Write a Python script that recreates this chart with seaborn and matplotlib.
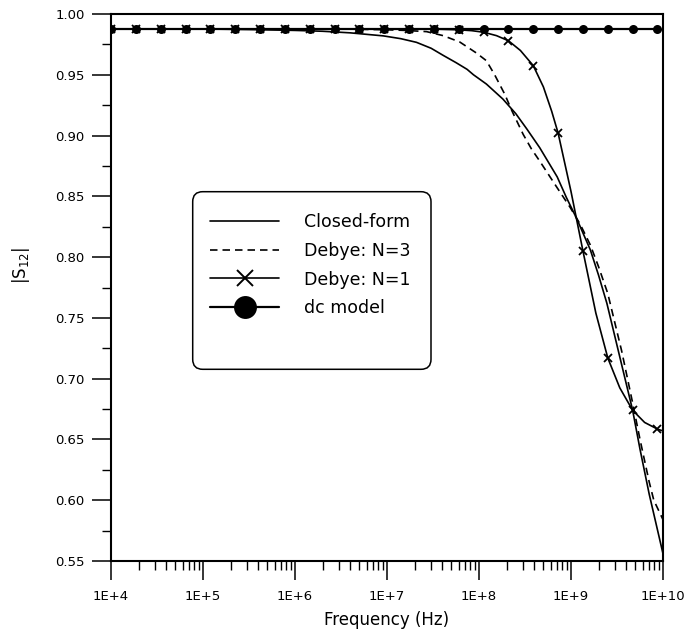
import numpy as np
import pandas as pd
import matplotlib
matplotlib.use("Agg")
import matplotlib.pyplot as plt
import seaborn as sns
from matplotlib.ticker import FixedLocator, LogLocator, MultipleLocator, NullFormatter
from matplotlib.patches import FancyBboxPatch
from matplotlib.transforms import IdentityTransform

# ---------------- data ----------------
# marker grid (log10 of frequency in Hz)
marker_logf = [4.00, 4.27, 4.54, 4.81, 5.08, 5.35, 5.62, 5.89, 6.16, 6.43, 6.70, 6.97,
               7.24, 7.51, 7.78, 8.05, 8.32, 8.59, 8.86, 9.13, 9.40, 9.67, 9.94]

dc_values = [0.9877] * 23

closed_logf = [4.0, 5.0, 5.5, 6.0, 6.3, 6.6, 6.96, 7.15, 7.32, 7.48, 7.61, 7.75, 7.87, 7.94,
               8.08, 8.26, 8.40, 8.52, 8.66, 8.85, 8.95, 9.06, 9.21, 9.30, 9.39, 9.53, 9.67,
               9.75, 9.85, 10.0]
closed_values = [0.9877, 0.9877, 0.9872, 0.9865, 0.9858, 0.9845, 0.9820, 0.9797, 0.9767, 0.9718,
                 0.9660, 0.9600, 0.9545, 0.9500, 0.9424, 0.9300, 0.9180, 0.9054, 0.8900, 0.8660,
                 0.8490, 0.8320, 0.8060, 0.7850, 0.7620, 0.7180, 0.6740, 0.6420, 0.6050, 0.5560]

debye3_logf = [4.0, 6.5, 7.0, 7.2, 7.43, 7.61, 7.79, 7.97, 8.08, 8.17, 8.28, 8.36, 8.48, 8.57,
               8.66, 8.85, 8.99, 9.10, 9.21, 9.30, 9.40, 9.55, 9.67, 9.75, 9.85, 9.90, 10.0]
debye3_values = [0.9877, 0.9877, 0.9870, 0.9865, 0.9855, 0.9822, 0.9770, 0.9680, 0.9616, 0.9500,
                 0.9340, 0.9200, 0.9010, 0.8890, 0.8790, 0.8570, 0.8410, 0.8270, 0.8100, 0.7920,
                 0.7700, 0.7230, 0.6800, 0.6500, 0.6150, 0.6000, 0.5840]

debye1_logf = [4.00, 4.27, 4.54, 4.81, 5.08, 5.35, 5.62, 5.89, 6.16, 6.43, 6.70, 6.97,
               7.24, 7.51, 7.78, 7.92, 8.05, 8.19, 8.32, 8.45, 8.59, 8.70, 8.79, 8.86, 9.00,
               9.13, 9.27, 9.40, 9.53, 9.67, 9.80, 9.94, 10.0]
debye1_values = [0.9877, 0.9877, 0.9877, 0.9877, 0.9877, 0.9877, 0.9877, 0.9877, 0.9877, 0.9877,
                 0.9877, 0.9877, 0.9877, 0.9876, 0.9870, 0.9863, 0.9850, 0.9822, 0.9780, 0.9700,
                 0.9575, 0.9400, 0.9200, 0.9020, 0.8540, 0.8050, 0.7540, 0.7170, 0.6925, 0.6740,
                 0.6640, 0.6585, 0.6570]

x_ticks_log = [4, 5, 6, 7, 8, 9, 10]
x_tick_labels = ["1E+4", "1E+5", "1E+6", "1E+7", "1E+8", "1E+9", "1E+10"]
y_ticks = [0.55, 0.60, 0.65, 0.70, 0.75, 0.80, 0.85, 0.90, 0.95, 1.00]
legend_labels = ["Closed-form", "Debye: N=3", "Debye: N=1", "dc model"]

# ---------------- figure ----------------
sns.set_style("ticks")
plt.rcParams["font.family"] = ["DejaVu Sans"]

W, H = 700, 629
fig = plt.figure(figsize=(W / 100, H / 100), dpi=100)
ax = fig.add_axes([111 / W, 1 - 561 / H, (663 - 111) / W, (561 - 14) / H])

f_closed = 10 ** np.array(closed_logf)
f_d3 = 10 ** np.array(debye3_logf)
f_d1 = 10 ** np.array(debye1_logf)
f_dc = 10 ** np.array(marker_logf)

marker_set = set(np.round(marker_logf, 2))
d1_mark_idx = [i for i, v in enumerate(debye1_logf) if round(v, 2) in marker_set]

# dc model first so that the X markers sit on top of the circles
sns.lineplot(x=f_dc, y=dc_values, ax=ax, color="black", lw=1.6, sort=False,
             label=legend_labels[3], marker="o", markersize=6.5, markeredgewidth=0,
             markeredgecolor="black", markerfacecolor="black")
sns.lineplot(x=f_closed, y=closed_values, ax=ax, color="black", lw=1.2, sort=False,
             label=legend_labels[0])
sns.lineplot(x=f_d3, y=debye3_values, ax=ax, color="black", lw=1.2, sort=False,
             label=legend_labels[1], linestyle=(0, (4.5, 3.0)))
sns.lineplot(x=f_d1, y=debye1_values, ax=ax, color="black", lw=1.2, sort=False,
             label=legend_labels[2], marker="x", markersize=6, markeredgewidth=1.3,
             markeredgecolor="black", markevery=d1_mark_idx)

ax.set_xscale("log")
ax.set_xlim(1e4, 1e10)
ax.set_ylim(0.55, 1.00)

ax.xaxis.set_major_locator(FixedLocator([10.0 ** v for v in x_ticks_log]))
ax.set_xticklabels(x_tick_labels)
ax.xaxis.set_minor_locator(LogLocator(base=10, subs=np.arange(2, 10), numticks=100))
ax.xaxis.set_minor_formatter(NullFormatter())
ax.yaxis.set_major_locator(FixedLocator(y_ticks))
ax.set_yticklabels([f"{v:.2f}" for v in y_ticks])
ax.yaxis.set_minor_locator(MultipleLocator(0.025))

ax.tick_params(which="major", direction="out", length=13.5, width=1.1, labelsize=9.5,
               color="black", labelcolor="black", top=False, right=False)
ax.tick_params(axis="x", which="major", pad=7.5)
ax.tick_params(axis="y", which="major", pad=5.5)
ax.tick_params(which="minor", direction="out", length=6.5, width=1.0, color="black",
               top=False, right=False)
for s in ax.spines.values():
    s.set_linewidth(1.5)
    s.set_color("black")
    s.set_visible(True)

ax.set_xlabel("Frequency (Hz)", fontsize=12, color="black")
ax.set_ylabel(r"$|\mathrm{S}_{12}|$", fontsize=12, color="black")
ax.xaxis.set_label_coords(0.5, -0.0905)
ax.yaxis.set_label_coords(-0.143, 0.54)

handles, labels = ax.get_legend_handles_labels()
order = [labels.index(l) for l in legend_labels]
leg = ax.legend([handles[i] for i in order], [labels[i] for i in order],
                loc="upper left", bbox_to_anchor=(210 / W, 1 - 213 / H),
                bbox_transform=fig.transFigure, frameon=False, fontsize=12.5,
                handlelength=4.0, handletextpad=1.4, labelspacing=0.62,
                borderpad=0, borderaxespad=0)
for t in leg.get_texts():
    t.set_color("black")
lh = leg.legend_handles
lh[2].set_markersize(11)
lh[2].set_markeredgewidth(1.4)
lh[3].set_markersize(16.5)

box = FancyBboxPatch((192.7, H - 369.3), 431 - 192.7, 369.3 - 191.7,
                     boxstyle="round,pad=0,rounding_size=10", transform=IdentityTransform(),
                     facecolor="none", edgecolor="black", linewidth=1.1)
fig.add_artist(box)

fig.savefig("out.png", dpi=100)
